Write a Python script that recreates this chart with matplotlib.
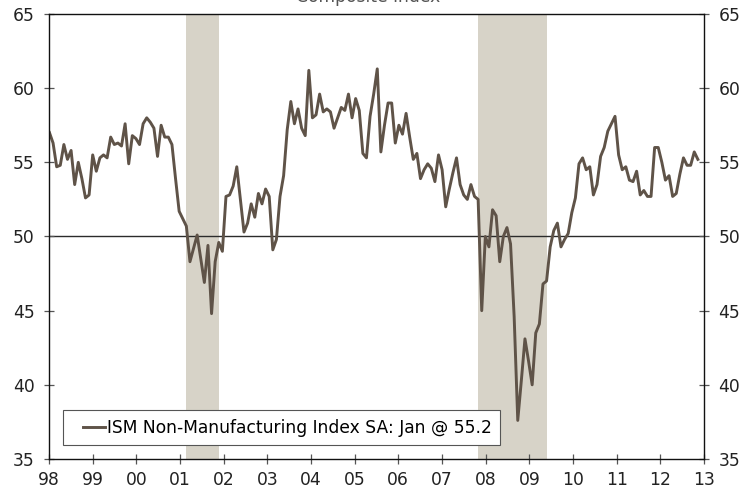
import numpy as np
import matplotlib
matplotlib.use("Agg")
import matplotlib.pyplot as plt
from matplotlib.legend_handler import HandlerLine2D

# ISM Non-Manufacturing Index SA, monthly, Jan 1998 .. Jan 2013
ism_1998 = [57.0, 56.3, 54.7, 54.8, 56.2, 55.2, 55.8, 53.5, 55.0, 53.9, 52.6, 52.8]
ism_1999 = [55.5, 54.4, 55.3, 55.5, 55.3, 56.7, 56.2, 56.3, 56.1, 57.6, 54.9, 56.8]
ism_2000 = [56.6, 56.2, 57.6, 58.0, 57.7, 57.3, 55.4, 57.5, 56.7, 56.7, 56.2, 53.9]
ism_2001 = [51.7, 51.2, 50.7, 48.3, 49.2, 50.1, 48.5, 46.9, 49.4, 44.8, 48.3, 49.6]
ism_2002 = [49.0, 52.7, 52.8, 53.4, 54.7, 52.5, 50.3, 50.9, 52.2, 51.3, 52.9, 52.2]
ism_2003 = [53.2, 52.7, 49.1, 49.8, 52.7, 54.1, 57.2, 59.1, 57.6, 58.6, 57.3, 56.8]
ism_2004 = [61.2, 58.0, 58.2, 59.6, 58.4, 58.6, 58.4, 57.3, 58.0, 58.7, 58.5, 59.6]
ism_2005 = [58.0, 59.3, 58.5, 55.6, 55.3, 58.1, 59.6, 61.3, 55.7, 57.5, 59.0, 59.0]
ism_2006 = [56.3, 57.5, 56.9, 58.3, 56.7, 55.2, 55.6, 53.9, 54.5, 54.9, 54.6, 53.7]
ism_2007 = [55.5, 54.5, 52.0, 53.2, 54.3, 55.3, 53.5, 52.8, 52.5, 53.5, 52.7, 52.5]
ism_2008 = [45.0, 50.0, 49.3, 51.8, 51.4, 48.3, 50.0, 50.6, 49.5, 44.6, 37.6, 40.3]
ism_2009 = [43.1, 41.6, 40.0, 43.5, 44.1, 46.8, 47.0, 49.3, 50.4, 50.9, 49.3, 49.8]
ism_2010 = [50.2, 51.6, 52.6, 54.9, 55.3, 54.5, 54.7, 52.8, 53.5, 55.4, 56.0, 57.1]
ism_2011 = [57.6, 58.1, 55.5, 54.5, 54.7, 53.8, 53.7, 54.4, 52.8, 53.1, 52.7, 52.7]
ism_2012 = [56.0, 56.0, 55.0, 53.8, 54.1, 52.7, 52.9, 54.2, 55.3, 54.8, 54.8, 55.7]
ism_2013 = [55.2]

year_labels = ["98", "99", "00", "01", "02", "03", "04", "05", "06", "07",
               "08", "09", "10", "11", "12", "13"]
# recessions as (first month index, month index after last month), counted from Jan 1998
recessions = [(38, 47), (119, 138)]

ism = np.array(ism_1998 + ism_1999 + ism_2000 + ism_2001 + ism_2002 + ism_2003
               + ism_2004 + ism_2005 + ism_2006 + ism_2007 + ism_2008 + ism_2009
               + ism_2010 + ism_2011 + ism_2012 + ism_2013)
months = np.arange(len(ism))

LINE = "#5f5348"
BAND = "#d7d3c8"
FS = 12.3
plt.rcParams["font.family"] = ["DejaVu Sans"]


class ShortHandle(HandlerLine2D):
    # legend line drawn only on the right part of the handle box (wider left gap)
    def create_artists(self, legend, orig_handle, xdescent, ydescent,
                       width, height, fontsize, trans):
        arts = super().create_artists(legend, orig_handle, xdescent, ydescent,
                                      width, height, fontsize, trans)
        for a in arts:
            xs = a.get_xdata()
            if len(xs) >= 2:
                a.set_xdata(np.linspace(-xdescent + 0.36 * width, -xdescent + width, len(xs)))
        return arts


fig = plt.figure(figsize=(7.51, 4.91), dpi=100)
ax = fig.add_axes([0.0652, 0.0652, 0.8722, 0.9063])

for start, end in recessions:
    ax.axvspan(start, end, color=BAND, lw=0, zorder=0)
ax.axhline(50, color="#2b2b2b", lw=1.0, zorder=1)
line, = ax.plot(months, ism, color=LINE, lw=2.1, zorder=2,
                label="ISM Non-Manufacturing Index SA: Jan @ 55.2")

x0, x1 = -0.14, 181.7
ax.set_xlim(x0, x1)
ax.set_ylim(35, 65)
ax.set_xticks(np.linspace(x0, x1, len(year_labels)))
ax.set_xticklabels(year_labels)
ax.set_yticks(np.arange(35, 66, 5))

for s in ax.spines.values():
    s.set_color("#111111")
    s.set_linewidth(1.0)
ax.tick_params(axis="both", direction="inout", length=7, width=0.9,
               color="#555555", labelsize=FS, labelcolor="#222222")
ax.tick_params(axis="y", left=True, right=True, labelleft=True, labelright=True, pad=7)
ax.tick_params(axis="x", pad=5)

leg = ax.legend(loc="lower left", bbox_to_anchor=(0.021, 0.031), borderaxespad=0,
                fontsize=FS, fancybox=False, framealpha=1, edgecolor="#555555",
                handlelength=1.95, handletextpad=0.12, borderpad=0.5,
                handler_map={line: ShortHandle()})
leg.get_frame().set_linewidth(0.8)

# chart title, cut off by the top edge as in the source image
fig.text(0.49, 1 - 1.5 / 491, "Composite Index", ha="center", va="baseline",
         fontsize=FS, color="#555555")

fig.savefig("out.png", dpi=100)
